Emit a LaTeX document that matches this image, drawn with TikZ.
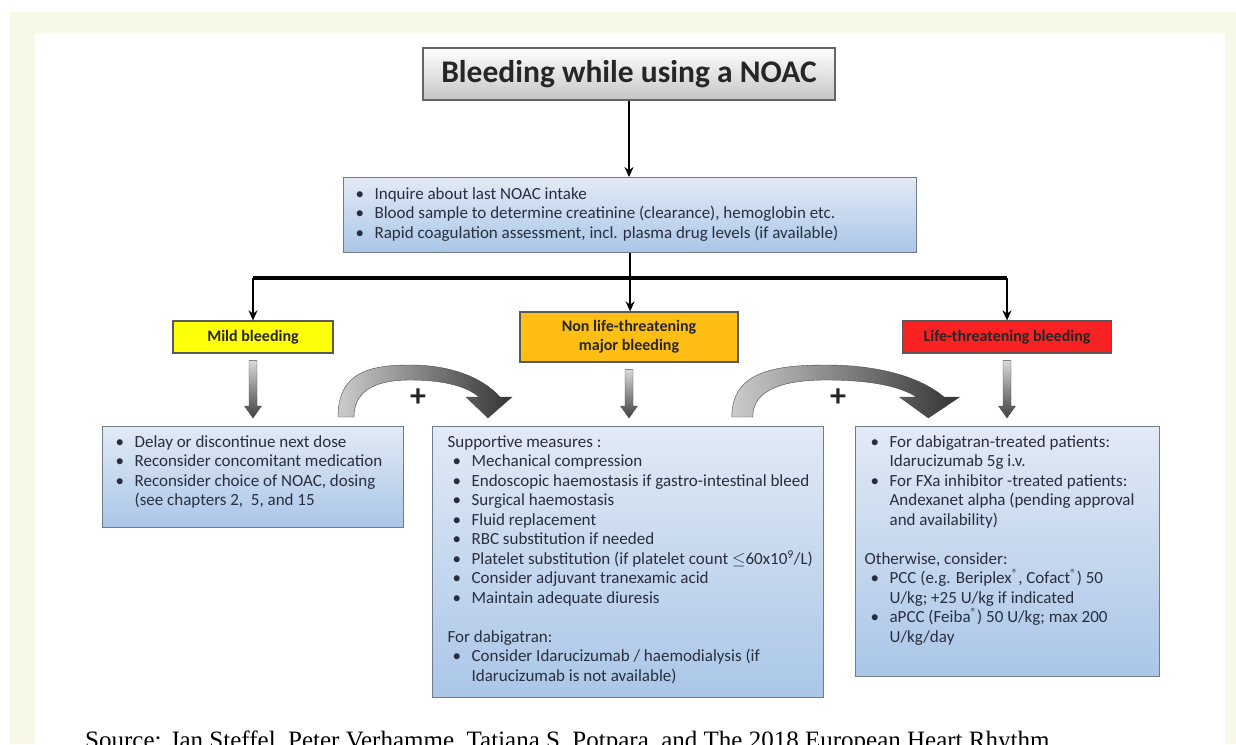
\documentclass[tikz,border=0pt]{standalone}
\usepackage{fontspec}
\setmainfont{Carlito}
\newfontfamily\capfont{Liberation Serif}
\usetikzlibrary{arrows,arrows.meta,shapes,calc}
\definecolor{cream}{RGB}{247,248,232}
\definecolor{boxtop}{RGB}{226,234,245}
\definecolor{boxbot}{RGB}{170,198,232}
\definecolor{boxline}{RGB}{112,124,138}
\definecolor{boxtext}{RGB}{40,46,62}
\definecolor{mildc}{RGB}{255,255,10}
\definecolor{majorc}{RGB}{255,190,20}
\definecolor{lifec}{RGB}{248,34,34}
\tikzstyle{headbox}=[draw=gray!80!black, line width=1.2pt, top color=white, bottom color=gray!45, minimum width=412pt, minimum height=52pt, font=\fontsize{31.5}{34}\selectfont\bfseries, text=black!85]
\tikzstyle{infobox}=[draw=boxline, line width=1.2pt, top color=boxtop, bottom color=boxbot, anchor=north west, inner ysep=9pt, font=\fontsize{17}{19.5}\selectfont, text=boxtext]
\tikzstyle{level}=[draw=gray!70!black, line width=1.2pt, align=center, font=\fontsize{16}{19}\selectfont\bfseries, text=black!85]
\tikzstyle{link}=[draw, line width=1.6pt, -{Stealth[length=10pt,width=9pt]}]
\tikzstyle{bar}=[draw, line width=4pt]
\tikzstyle{blockarrow}=[top color=gray!30, bottom color=black!75, draw=gray!60!black, line width=0.4pt]
\tikzstyle{plus arc}=[left color=gray!40, right color=black!80, draw=gray!60!black, line width=0.4pt]
\tikzstyle{plus}=[font=\fontsize{32}{32}\selectfont\bfseries, text=black!85, inner sep=0pt]
\newcommand{\bl}{\makebox[19pt][l]{\textbullet}}
\newcommand{\cont}{\hspace*{19pt}}
\begin{document}
\begin{tikzpicture}[x=1pt, y=-1pt]
    \useasboundingbox (0,0) rectangle (1236,744);
    \clip (0,0) rectangle (1236,744);
    % page frame
    \fill[white] (0,0) rectangle (1236,744);
    \fill[cream] (10,12) rectangle (1236,744);
    \fill[white] (35,33) rectangle (1225,744);

    % First the boxes
    \node[headbox] (title) at (629,74) {Bleeding while using a NOAC};
    \node[infobox, inner xsep=12pt, inner ysep=10pt] (info) at (343,177) {\parbox[t][55pt][t]{549pt}{%
        \bl Inquire about last NOAC intake\\
        \bl Blood sample to determine creatinine (clearance), hemoglobin etc.\\
        \bl Rapid coagulation assessment, incl. plasma drug levels (if available)}};

    \node[level, fill=mildc, minimum width=160pt, minimum height=32pt] (mild) at (253,337) {Mild bleeding};
    \node[level, fill=majorc, minimum width=218pt, minimum height=50pt] (major) at (629,337) {Non life-threatening\\major bleeding};
    \node[level, fill=lifec, minimum width=209pt, minimum height=32pt] (life) at (1007,337) {Life-threatening bleeding};

    \node[infobox, inner xsep=13pt] (mildbox) at (102,426) {\parbox[t][83pt][t]{275pt}{%
        \bl Delay or discontinue next dose\\
        \bl Reconsider concomitant medication\\
        \bl Reconsider choice of NOAC, dosing\\
        \cont (see chapters 2,\ \ 5, and 15}};
    \node[infobox, inner xsep=20pt] (majorbox) at (432,426) {\parbox[t][253pt][t]{351pt}{%
        \hspace*{-5pt}Supportive measures :\\
        \bl Mechanical compression\\
        \bl \mbox{Endoscopic haemostasis if gastro-intestinal bleed}\\
        \bl Surgical haemostasis\\
        \bl Fluid replacement\\
        \bl RBC substitution if needed\\
        \bl \mbox{Platelet substitution (if platelet count \ensuremath{\leq}60x10\textsuperscript{9}/L)}\\
        \bl Consider adjuvant tranexamic acid\\
        \bl Maintain adequate diuresis\\[19.5pt]
        \hspace*{-5pt}For dabigatran:\\
        \bl Consider Idarucizumab / haemodialysis (if\\
        \cont Idarucizumab is not available)}};
    \node[infobox, inner xsep=15pt] (lifebox) at (855,426) {\parbox[t][232pt][t]{274pt}{%
        \bl For dabigatran-treated patients:\\
        \cont Idarucizumab 5g i.v.\\
        \bl For FXa inhibitor -treated patients:\\
        \cont Andexanet alpha (pending approval\\
        \cont and availability)\\[19.5pt]
        \hspace*{-6pt}Otherwise, consider:\\
        \bl PCC (e.g. Beriplex\textsuperscript{®}, Cofact\textsuperscript{®}) 50\\
        \cont U/kg; +25 U/kg if indicated\\
        \bl aPCC (Feiba\textsuperscript{®}) 50 U/kg; max 200\\
        \cont U/kg/day}};

    % Connect boxes with arrows
    \coordinate (barL) at (253,278);
    \coordinate (barR) at (1007,278);
    \draw[link] (title) -- (info.north -| title);
    \path[bar] (barL) -- (barR);
    \draw[link] (info.south) -- (info.south |- major.north);
    \draw[link] (barL) -- (mild);
    \draw[link] (barR) -- (life);

    % grey block arrows down to the measures
    \foreach \a/\b in {mild/mildbox, major/majorbox, life/lifebox}
        \shade[blockarrow] let \p1=(\a.south), \p2=(\b.north) in
            (\x1-4pt,\y1-7pt) -- (\x1+4pt,\y1-7pt) -- (\x1+4pt,\y2+20pt) -- (\x1+8.5pt,\y2+20pt)
            -- (\x1,\y2+8pt) -- (\x1-8.5pt,\y2+20pt) -- (\x1-4pt,\y2+20pt) -- cycle;

    % curved "+" arrows
    \foreach \dx/\sx in {0/1, 289/1.31}{
        \begin{scope}[xshift=\dx pt, xscale=\sx]
        \shade[plus arc] (338,417) .. controls (338,372) and (370,365) .. (410,365)
            .. controls (450,365) and (482,377) .. (500,397) -- (512,397) -- (488,418) -- (466,397) -- (479,397)
            .. controls (465,385) and (440,380) .. (410,380) .. controls (380,380) and (354,388) .. (354,417) -- cycle;
        \end{scope}
    }
    \node[plus] (plusL) at (418,398) {+};
    \node[plus] (plusR) at (838,398) {+};

    % source line, cut off at the bottom
    \node[anchor=base west, inner sep=0pt, font=\capfont\fontsize{25}{30}\selectfont] (src) at (85,748)
        {Source: Jan Steffel, Peter Verhamme, Tatjana S. Potpara, and The 2018 European Heart Rhythm};
\end{tikzpicture}
\end{document}
